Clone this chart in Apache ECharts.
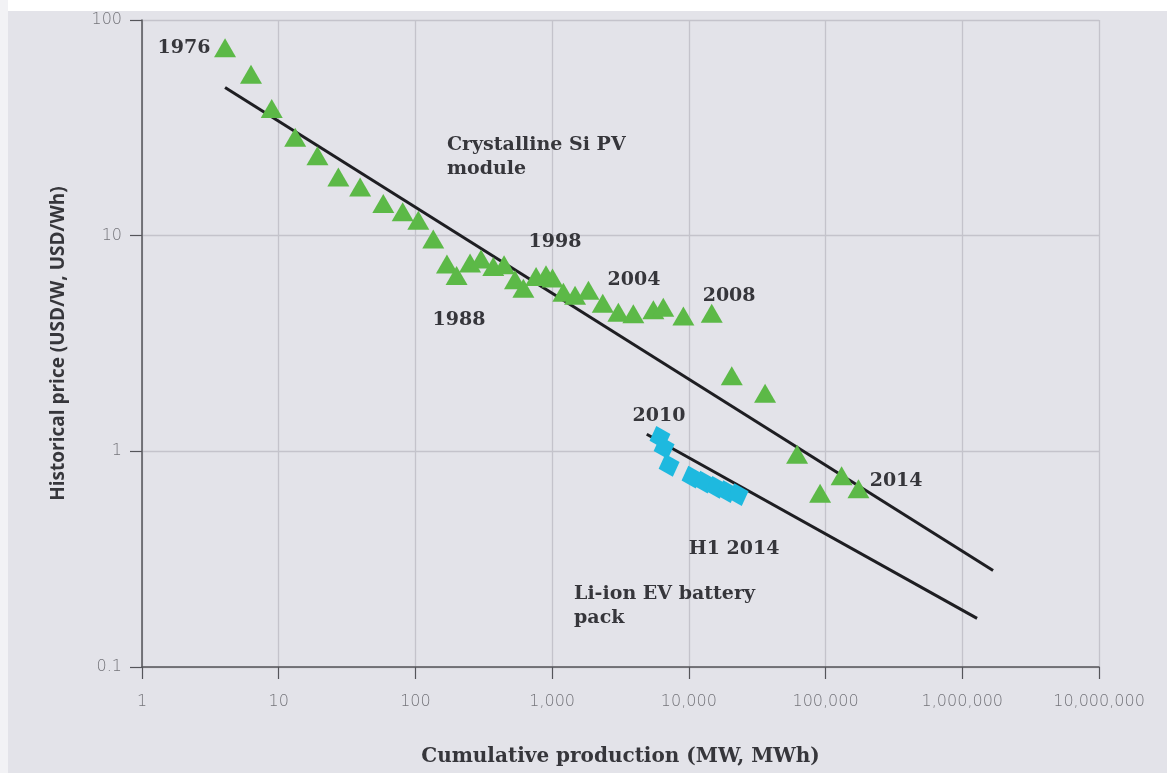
<!DOCTYPE html>
<html>
<head>
<meta charset="utf-8">
<script src="https://cdn.jsdelivr.net/npm/echarts@6/dist/echarts.min.js"></script>
<style>
html,body{margin:0;padding:0;background:#ffffff;}
#c{width:1167px;height:773px;}
</style>
</head>
<body>
<div id="c"></div>
<script>
// Crystalline Si PV module: cumulative production (MW) and price (USD/W)
const pvX = [4.05, 6.27, 8.89, 13.2, 19.2, 27.3, 39.4, 58.2, 80.7, 105, 135, 170, 200, 251, 302, 371, 445, 535, 616, 763, 902, 1006, 1208, 1471, 1843, 2346, 3050, 3925, 5500, 6500, 9120, 14700, 20600, 36100, 61900, 91200, 131000, 174000];
const pvY = [74.3, 56.0, 38.9, 28.6, 23.5, 18.7, 16.8, 14.1, 12.9, 11.8, 9.64, 7.39, 6.54, 7.47, 7.79, 7.20, 7.33, 6.25, 5.70, 6.47, 6.59, 6.36, 5.46, 5.29, 5.58, 4.86, 4.42, 4.35, 4.54, 4.66, 4.24, 4.37, 2.24, 1.86, 0.97, 0.64, 0.77, 0.67];

// Li-ion EV battery pack: cumulative production (MWh) and price (USD/Wh)
const batX = [6150, 6590, 7170, 10550, 12900, 15800, 19000, 22900];
const batY = [1.16, 1.04, 0.86, 0.76, 0.72, 0.68, 0.65, 0.63];

// Trend lines (end points)
const pvTrendX = [4.05, 1680000];
const pvTrendY = [48.6, 0.28];
const batTrendX = [4920, 1283000];
const batTrendY = [1.20, 0.168];

// Annotations
const annoText = ['1976', '1988', '1998', '2004', '2008', '2010', 'H1 2014', '2014', 'Crystalline Si PV\nmodule', 'Li-ion EV battery\npack'];
const annoX = [2.03, 208, 1050, 3970, 19700, 6050, 21400, 328000, 170, 1446];
const annoY = [74.3, 4.06, 9.38, 6.2, 5.23, 1.45, 0.353, 0.727, 23.1, 0.191];
const annoAlign = ['center', 'center', 'center', 'center', 'center', 'center', 'center', 'center', 'left', 'left'];

// Axis ticks
const xTicks = [1, 10, 100, 1000, 10000, 100000, 1000000, 10000000];
const yTicks = [0.1, 1, 10, 100];

const chart = echarts.init(document.getElementById('c'), null, {renderer: 'canvas'});

const slab = '"DejaVu Serif", serif';
const textColor = '#36363b';
const tickFont = '"DejaVu Sans", sans-serif';

const annoData = annoText.map((t, i) => ({
  value: [annoX[i], annoY[i]],
  name: t,
  label: {align: annoAlign[i]}
}));

const option = {
  backgroundColor: '#e3e3e9',
  animation: false,
  graphic: [
    {type: 'rect', left: 0, top: 0, shape: {width: 1167, height: 11}, style: {fill: '#ffffff'}, z: -10},
    {type: 'rect', left: 0, top: 0, shape: {width: 8, height: 773}, style: {fill: '#f2f2f5'}, z: -10}
  ],
  grid: {left: 142, right: 68, top: 20, bottom: 106, containLabel: false},
  xAxis: {
    type: 'log', logBase: 10, min: xTicks[0], max: xTicks[xTicks.length - 1],
    axisLine: {show: true, lineStyle: {color: '#55555a', width: 1.5}},
    axisTick: {show: true, length: 12, lineStyle: {color: '#55555a', width: 1.2}},
    splitLine: {show: true, lineStyle: {color: '#c4c3cb', width: 1.3}},
    axisLabel: {
      formatter: v => Number(Number(v).toPrecision(6)).toLocaleString('en-US'),
      margin: 27, color: '#74747a', fontFamily: tickFont, fontWeight: 300, fontSize: 16
    },
    name: 'Cumulative production (MW, MWh)',
    nameLocation: 'middle', nameGap: 80,
    nameTextStyle: {fontFamily: slab, fontWeight: 'bold', fontSize: 20, color: textColor}
  },
  yAxis: {
    type: 'log', logBase: 10, min: yTicks[0], max: yTicks[yTicks.length - 1],
    axisLine: {show: true, lineStyle: {color: '#55555a', width: 1.5}},
    axisTick: {show: true, length: 12, lineStyle: {color: '#55555a', width: 1.2}},
    splitLine: {show: true, lineStyle: {color: '#c4c3cb', width: 1.3}},
    axisLabel: {
      formatter: v => String(Number(Number(v).toPrecision(6))),
      margin: 20, color: '#74747a', fontFamily: tickFont, fontWeight: 300, fontSize: 16
    },
    name: 'Historical price (USD/W, USD/Wh)',
    nameLocation: 'middle', nameGap: 74, nameRotate: 90,
    nameTextStyle: {fontFamily: '"Open Sans", sans-serif', fontWeight: 'bold', fontSize: 19, color: textColor}
  },
  series: [
    {
      type: 'line', data: pvTrendX.map((x, i) => [x, pvTrendY[i]]),
      showSymbol: false, lineStyle: {color: '#1e1e22', width: 3}, z: 3, silent: true
    },
    {
      type: 'line', data: batTrendX.map((x, i) => [x, batTrendY[i]]),
      showSymbol: false, lineStyle: {color: '#1e1e22', width: 3}, z: 3, silent: true
    },
    {
      type: 'scatter', data: pvX.map((x, i) => [x, pvY[i]]),
      symbol: 'triangle', symbolSize: [22, 19],
      itemStyle: {color: '#5cb947', opacity: 1}, z: 4
    },
    {
      type: 'scatter', data: batX.map((x, i) => [x, batY[i]]),
      symbol: 'diamond', symbolSize: [22, 24], symbolRotate: 18,
      itemStyle: {color: '#1eb9df', opacity: 1}, z: 5
    },
    {
      type: 'scatter', data: annoData, symbolSize: 0, z: 6, silent: true,
      itemStyle: {color: textColor, opacity: 1},
      label: {
        show: true, position: [0, 0], verticalAlign: 'middle',
        formatter: p => p.name,
        fontFamily: slab, fontWeight: 'bold', fontSize: 19, lineHeight: 24,
        color: textColor, opacity: 1
      }
    }
  ]
};
chart.setOption(option);
</script>
</body>
</html>
